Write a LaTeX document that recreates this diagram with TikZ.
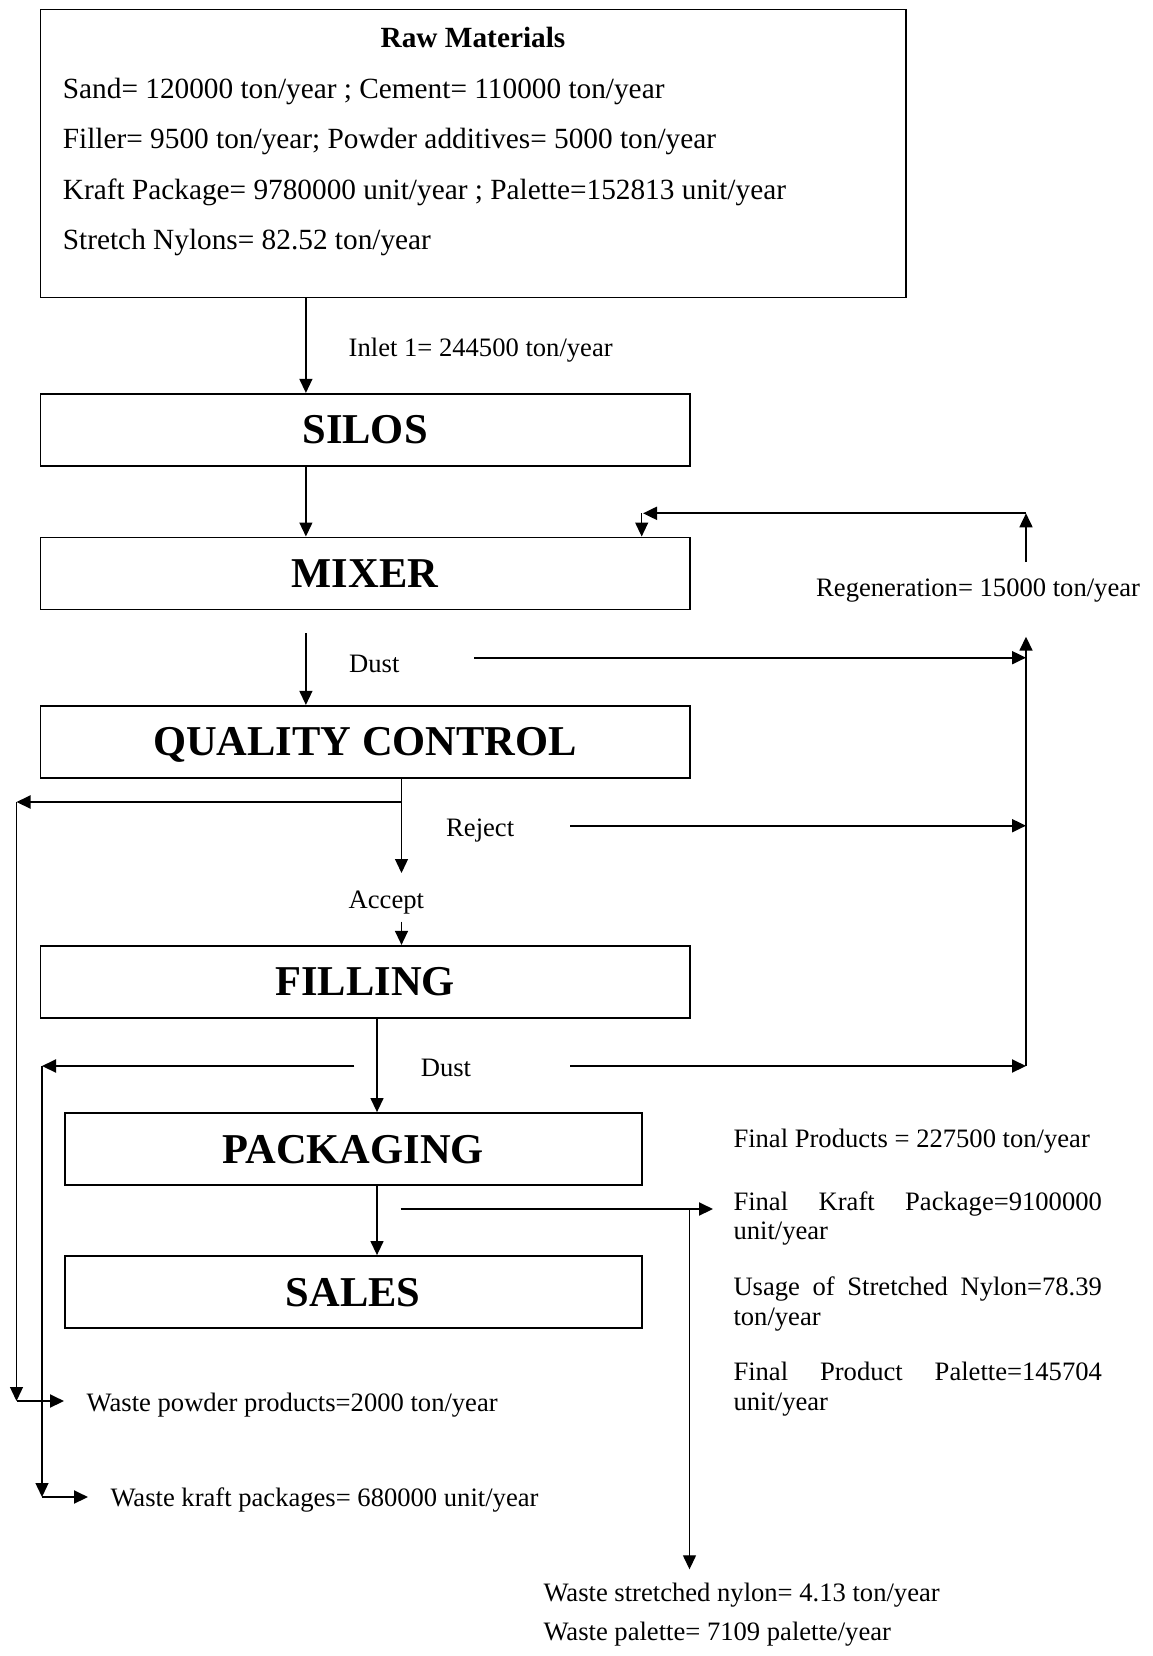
\documentclass[tikz,border=0pt]{standalone}
\usepackage{fontspec}
\setmainfont{Liberation Serif}
\usetikzlibrary{arrows.meta}
\begin{document}
\begin{tikzpicture}[x=1pt,y=-1pt,
  box/.style={draw, line width=1.8pt, inner sep=0pt, minimum height=72pt, text depth=0pt, font=\fontsize{42.5}{46}\selectfont\bfseries},
  lbl/.style={inner sep=0pt, anchor=base west, font=\fontsize{26.6}{30}\selectfont},
  rawtxt/.style={inner sep=0pt, anchor=base west, font=\fontsize{29.3}{34}\selectfont},
  tipstyle/.style={-{Triangle[length=14pt,width=13pt]}},
  thinarrow/.style={tipstyle, line width=1.3pt},
  thickarrow/.style={tipstyle, line width=2pt},
]
\useasboundingbox (0,0) rectangle (1153,1656);

% boxes
\node[draw, line width=1.8pt, minimum width=865.5pt, minimum height=287.9pt, inner sep=0pt] (raw) at (473.15,153.45) {};
\node[box, minimum width=649.3pt] (silos) at (365.05,429.8) {SILOS};
\node[box, minimum width=649.3pt] (mixer) at (365.05,573.4) {MIXER};
\node[box, minimum width=649.3pt] (qc) at (365.05,741.8) {QUALITY CONTROL};
\node[box, minimum width=649.3pt] (filling) at (365.05,981.8) {FILLING};
\node[box, minimum width=577.2pt] (pack) at (353.3,1149) {PACKAGING};
\node[box, minimum width=577.2pt] (sales) at (353.3,1292) {SALES};

% raw materials text
\node[inner sep=0pt, anchor=base, font=\fontsize{29.3}{34}\selectfont\bfseries] (rawtitle) at (473,47.3) {Raw Materials};
\node[rawtxt] (r1) at (62.7,98.3) {Sand= 120000 ton/year ; Cement= 110000 ton/year};
\node[rawtxt] (r2) at (62.7,148.8) {Filler= 9500 ton/year; Powder additives= 5000 ton/year};
\node[rawtxt] (r3) at (62.7,199.3) {Kraft Package= 9780000 unit/year ; Palette=152813 unit/year};
\node[rawtxt] (r4) at (62.7,249.3) {Stretch Nylons= 82.52 ton/year};

% labels
\node[lbl] (inlet) at (348.5,356) {Inlet 1= 244500 ton/year};
\node[lbl] (regen) at (816,596) {Regeneration= 15000 ton/year};
\node[lbl] (dust1) at (349,672.4) {Dust};
\node[lbl] (reject) at (446,836.7) {Reject};
\node[lbl] (accept) at (348.5,908) {Accept};
\node[lbl] (dust2) at (420.6,1076.7) {Dust};
\node[lbl] (fp1) at (733.3,1147.3) {Final Products = 227500 ton/year};
\node[lbl] (fk1) at (733.3,1210) {\makebox[368.4pt][s]{Final Kraft Package=9100000}};
\node[lbl] (fk2) at (733.3,1239.3) {unit/year};
\node[lbl] (us1) at (733.3,1295) {\makebox[368.4pt][s]{Usage of Stretched Nylon=78.39}};
\node[lbl] (us2) at (733.3,1325) {ton/year};
\node[lbl] (pp1) at (733.3,1380) {\makebox[368.4pt][s]{Final Product Palette=145704}};
\node[lbl] (pp2) at (733.3,1410) {unit/year};
\node[lbl] (wp) at (86.5,1411.7) {Waste powder products=2000 ton/year};
\node[lbl] (wk) at (110.3,1506) {Waste kraft packages= 680000 unit/year};
\node[lbl] (wn) at (543.3,1601.7) {Waste stretched nylon= 4.13 ton/year};
\node[lbl] (wpal) at (543.3,1640) {Waste palette= 7109 palette/year};

% reference columns and free ends
\coordinate (cx1) at (305.9,0);
\coordinate (cx2) at (401.5,0);
\coordinate (cx3) at (377,0);
\coordinate (rx) at (1026,0);
\coordinate (lx1) at (16.5,0);
\coordinate (lx2) at (42,0);
\coordinate (d1top) at (305.9,633);
\coordinate (qcacc) at (401.5,873);
\coordinate (accs) at (401.5,921.5);
\coordinate (rg0) at (1026,562);
\coordinate (rg1) at (1026,513.3);
\coordinate (rg2) at (643,513.3);
\coordinate (rg3) at (641.7,513.3);
\coordinate (rb) at (1026,1066);
\coordinate (rt) at (1026,636.7);
\coordinate (ds1) at (474,657.7);
\coordinate (rj) at (570,825.7);
\coordinate (ds2r) at (570,1066);
\coordinate (dl) at (354.4,1066);
\coordinate (qb) at (401.5,802);
\coordinate (wpc) at (16.5,1401);
\coordinate (wptip) at (64,1401);
\coordinate (wkc) at (42,1497);
\coordinate (wktip) at (88,1497);
\coordinate (pr) at (400.7,1209);
\coordinate (prt) at (713,1209);
\coordinate (pv) at (689.5,1209);
\coordinate (pvb) at (689.5,1569.3);

% main flow
\draw[thinarrow] (raw.south -| cx1) -- (silos.north -| cx1);
\draw[thinarrow] (silos.south -| cx1) -- (mixer.north -| cx1);
\draw[thinarrow] (d1top) -- (qc.north -| cx1);
\draw[thinarrow] (qc.south -| cx2) -- (qcacc);
\draw[thinarrow] (accs) -- (filling.north -| cx2);
\draw[thinarrow] (filling.south -| cx3) -- (pack.north -| cx3);
\draw[thinarrow] (pack.south -| cx3) -- (sales.north -| cx3);

% regeneration loop
\draw[tipstyle, line width=1.7pt] (rg0) -- (rg1);
\draw[thickarrow] (rg1) -- (rg2);
\draw[thinarrow] (rg3) -- (mixer.north -| rg3);
\draw[tipstyle, line width=1.7pt] (rb) -- (rt);
\draw[thickarrow] (ds1) -- (ds1 -| rx);
\draw[thickarrow] (rj) -- (rj -| rx);
\draw[thickarrow] (ds2r) -- (rb);

% waste lines (left)
\draw[thickarrow] (qb) -- (qb -| lx1);
\draw[thinarrow] (qb -| lx1) -- (wpc);
\draw[thickarrow] (wpc) -- (wptip);
\draw[thickarrow] (dl) -- (dl -| lx2);
\draw[thinarrow] (dl -| lx2) -- (wkc);
\draw[thickarrow] (wkc) -- (wktip);

% packaging outputs
\draw[thickarrow] (pr) -- (prt);
\draw[thinarrow] (pv) -- (pvb);
\end{tikzpicture}
\end{document}
